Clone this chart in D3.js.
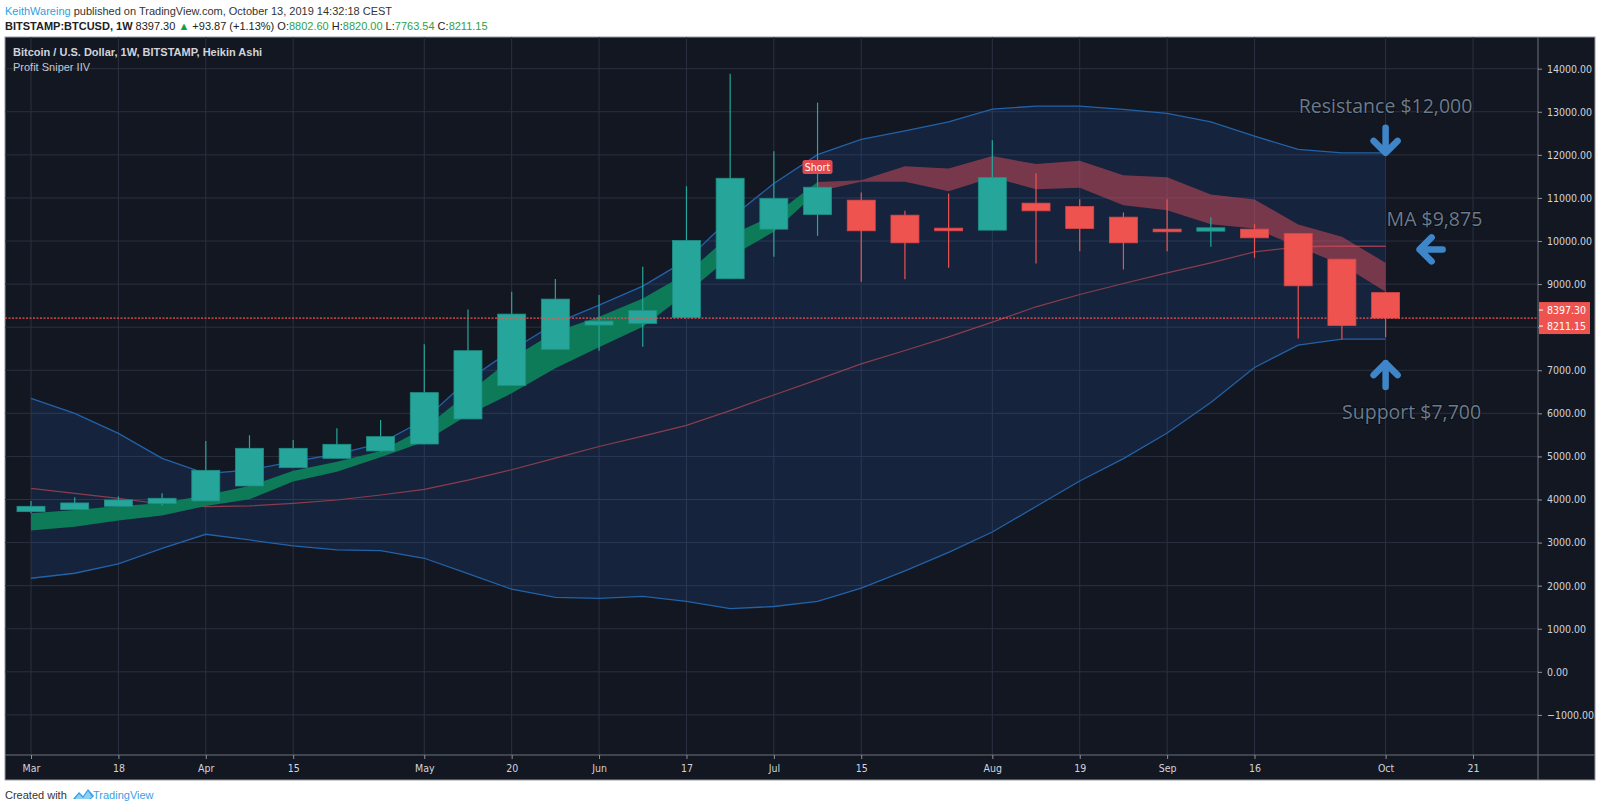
<!DOCTYPE html>
<html><head><meta charset="utf-8">
<script src="https://cdn.jsdelivr.net/npm/d3@7/dist/d3.min.js"></script>
<style>
html,body{margin:0;padding:0;background:#fff;}
svg{display:block;}
</style></head>
<body>
<svg id="c" width="1600" height="811"></svg>
<script>
// ---------------- DATA ----------------
const weeks = ["2019-03-04","2019-03-11","2019-03-18","2019-03-25","2019-04-01","2019-04-08","2019-04-15","2019-04-22","2019-04-29",
  "2019-05-06","2019-05-13","2019-05-20","2019-05-27","2019-06-03","2019-06-10","2019-06-17","2019-06-24","2019-07-01","2019-07-08",
  "2019-07-15","2019-07-22","2019-07-29","2019-08-05","2019-08-12","2019-08-19","2019-08-26","2019-09-02","2019-09-09","2019-09-16",
  "2019-09-23","2019-09-30","2019-10-07"];
const haOpen  = [3718,3765,3842,3904,3966,4314,4739,4956,5126,5288,5870,6643,7485,8049,8088,8227,9124,10275,10615,
  10949,10600,10299,10252,10879,10802,10554,10276,10229,10276,10175,9579,8802.60];
const haHigh  = [3966,4051,4067,4144,5358,5490,5381,5652,5845,7601,8413,8822,9116,8745,9402,11272,13884,12083,13212,
  11127,10701,11104,12342,11576,10972,10663,10972,10554,10392,10175,9579,8820.00];
const haLow   = [3680,3765,3842,3859,3966,4314,4739,4956,5100,5288,5870,6643,7485,7454,7547,8227,9124,9634,10121,
  9053,9115,9378,10252,9478,9765,9339,9765,9865,9610,7737,7713,7763.54];
const haClose = [3842,3920,3989,4028,4677,5188,5188,5281,5459,6481,7454,8304,8652,8142,8390,10012,11457,10986,11249,
  10237,9958,10237,11475,10701,10291,9958,10214,10307,10074,8960,8039,8211.15];
const bandUpper = [6348,6000,5536,4956,4600,4685,4879,5056,5304,5850,6774,7470,8088,8513,8953,9556,10522,11334,12006,
  12358,12559,12768,13062,13132,13132,13054,12961,12768,12435,12125,12048,12048];
const bandLower = [2172,2288,2504,2868,3193,3061,2922,2829,2813,2636,2280,1918,1729,1705,1752,1634,1468,1516,1634,
  1942,2345,2771,3245,3837,4429,4950,5542,6253,7064,7582,7721,7721];
const maLine = [4260,4144,4028,3896,3834,3850,3912,3989,4105,4237,4450,4690,4960,5230,5470,5720,6063,6427,6782,
  7149,7458,7776,8116,8473,8758,9014,9262,9494,9749,9865,9880,9875];
const cloudTop = [3680,3757,3850,3912,4105,4314,4670,4879,5126,5652,6465,7277,7895,8243,8668,9247,10136,10600,11370,
  11413,11738,11684,11971,11785,11862,11529,11483,11080,10964,10384,10097,9494];
const cloudBottom = [3278,3370,3510,3626,3850,4005,4415,4647,4979,5343,5963,6465,7045,7532,8011,8784,9634,10213,11150,
  11375,11375,11158,11475,11204,11235,10833,10717,10392,10291,9865,9450,8820];
const trendFlipWeek = "2019-07-08";           // cloud turns from bullish to bearish
const signals = [{week:"2019-07-08", text:"Short"}];
const xTickDates  = ["2019-03-04","2019-03-18","2019-04-01","2019-04-15","2019-05-06","2019-05-20","2019-06-03","2019-06-17",
  "2019-07-01","2019-07-15","2019-08-05","2019-08-19","2019-09-02","2019-09-16","2019-10-07","2019-10-21"];
const xTickLabels = ["Mar","18","Apr","15","May","20","Jun","17","Jul","15","Aug","19","Sep","16","Oct","21"];
const yTicks = d3.range(-1000, 14001, 1000);
const lastPrice = 8397.30, change = 93.87, changePct = 1.13;
const ohlcNames = ["O","H","L","C"];
const ohlcValues = [8802.60, 8820.00, 7763.54, 8211.15];
const levels = {resistance:12000, ma:9875, support:7700};
const maLevelFrom = "2019-09-23";

// ---------------- LAYOUT ----------------
const svg = d3.select("#c");
const F = "'Liberation Sans', Arial, sans-serif";
const AX = "'DejaVu Sans Condensed','DejaVu Sans',sans-serif";
const frame = {x0:5, y0:37, x1:1595, y1:780};
const plot = {x0:5, y0:37, x1:1538, y1:755};
const pd = s => new Date(s + "T00:00:00Z");
const x = d3.scaleUtc().domain([pd("2019-03-04"), pd("2019-10-21")]).range([31, 1473]);
const y = d3.scaleLinear().domain([-1000, 14000]).range([714.9, 68.7]);
const xs = weeks.map(w => x(pd(w)));

svg.append("rect").attr("width",1600).attr("height",811).attr("fill","#fff");

// header
const h1 = svg.append("text").attr("x",5).attr("y",15).attr("font-family",F).attr("font-size",11).attr("fill","#333");
h1.append("tspan").attr("fill","#2e9fe0").text("KeithWareing");
h1.append("tspan").text(" published on TradingView.com, October 13, 2019 14:32:18 CEST");
const h2 = svg.append("text").attr("x",5).attr("y",30).attr("font-family",F).attr("font-size",11).attr("fill","#222");
h2.append("tspan").attr("font-weight","bold").text("BITSTAMP:BTCUSD, 1W");
h2.append("tspan").text("  " + lastPrice.toFixed(2) + " ");
h2.append("tspan").attr("fill","#1e9b3c").text("▲");
h2.append("tspan").text(" +" + change.toFixed(2) + " (+" + changePct.toFixed(2) + "%) ");
ohlcNames.forEach((n,i)=>{
  h2.append("tspan").text((i? " ":"") + n + ":");
  h2.append("tspan").attr("fill","#2fa04a").text(ohlcValues[i].toFixed(2));
});

// chart frame
svg.append("rect").attr("x",frame.x0).attr("y",frame.y0).attr("width",frame.x1-frame.x0).attr("height",frame.y1-frame.y0)
  .attr("fill","#131722").attr("stroke","#9a9ca3").attr("stroke-width",1);

const defs = svg.append("defs");
defs.append("clipPath").attr("id","pc").append("rect").attr("x",plot.x0).attr("y",plot.y0)
  .attr("width",plot.x1-plot.x0).attr("height",plot.y1-plot.y0);
const g = svg.append("g").attr("clip-path","url(#pc)");

// grid
g.selectAll(".hg").data(yTicks).join("line").attr("x1",plot.x0).attr("x2",plot.x1)
  .attr("y1",d=>y(d)).attr("y2",d=>y(d)).attr("stroke","#2b3040").attr("stroke-width",1);
g.selectAll(".vg").data(xTickDates).join("line").attr("y1",plot.y0).attr("y2",plot.y1)
  .attr("x1",d=>x(pd(d))).attr("x2",d=>x(pd(d))).attr("stroke","#2b3040").attr("stroke-width",1);

// bollinger-like band
const idx = d3.range(weeks.length);
g.append("path").datum(idx).attr("fill","rgba(33,110,220,0.14)")
  .attr("d", d3.area().x(i=>xs[i]).y0(i=>y(bandLower[i])).y1(i=>y(bandUpper[i])));
const line = arr => d3.line().x(i=>xs[i]).y(i=>y(arr[i]));
g.append("path").datum(idx).attr("fill","none").attr("stroke","#2262a8").attr("stroke-width",1.3).attr("d", line(bandUpper));
g.append("path").datum(idx).attr("fill","none").attr("stroke","#2262a8").attr("stroke-width",1.3).attr("d", line(bandLower));

// MA
g.append("path").datum(idx).attr("fill","none").attr("stroke","#8a3d4f").attr("stroke-width",1.2).attr("d", line(maLine));
g.append("line").attr("x1",x(pd(maLevelFrom))).attr("x2",xs[xs.length-1]).attr("y1",y(levels.ma)).attr("y2",y(levels.ma))
  .attr("stroke","#9a3e52").attr("stroke-width",1.2);

// cloud
const flip = weeks.indexOf(trendFlipWeek);
const cloudArea = d3.area().x(i=>xs[i]).y0(i=>y(cloudBottom[i])).y1(i=>y(cloudTop[i]));
g.append("path").datum(idx.filter(i=>i<=flip)).attr("fill","#0d7a58").attr("d",cloudArea);
g.append("path").datum(idx.filter(i=>i>=flip)).attr("fill","rgba(200,75,90,0.55)").attr("d",cloudArea);

// candles
const bw = 28;
const up = i => haClose[i] >= haOpen[i];
const cg = g.append("g");
idx.forEach(i=>{
  const col = up(i) ? "#26a69a" : "#ef5350";
  cg.append("line").attr("x1",xs[i]).attr("x2",xs[i]).attr("y1",y(haHigh[i])).attr("y2",y(haLow[i]))
    .attr("stroke",col).attr("stroke-width",1.2);
  const top = y(Math.max(haOpen[i],haClose[i])), bot = y(Math.min(haOpen[i],haClose[i]));
  cg.append("rect").attr("x",xs[i]-bw/2).attr("y",top).attr("width",bw).attr("height",Math.max(2.5,bot-top))
    .attr("fill",col).attr("stroke", up(i)?"#1f8f85":"#d9474a").attr("stroke-width",0.8);
});

// signals
signals.forEach(s=>{
  const i = weeks.indexOf(s.week);
  const cx = xs[i], cy = y(cloudTop[i]) - 15;
  g.append("rect").attr("x",cx-15).attr("y",cy-7).attr("width",30).attr("height",14).attr("rx",2.5)
    .attr("fill","#e5484f");
  g.append("text").attr("x",cx).attr("y",cy+4).attr("text-anchor","middle").attr("font-family",AX)
    .attr("font-size",10.5).attr("fill","#fff").text(s.text);
});

// last price dotted line
g.append("line").attr("x1",plot.x0).attr("x2",plot.x1).attr("y1",y(ohlcValues[3])).attr("y2",y(ohlcValues[3]))
  .attr("stroke","#ef5350").attr("stroke-width",1.2).attr("stroke-dasharray","2,1.5");

// annotations
const ax = xs[xs.length-1];
const ann = svg.append("g").attr("font-family","'Open Sans','Noto Sans',sans-serif").attr("font-size",19.5)
  .attr("fill","#6a7b8e").attr("stroke","#0a0d13").attr("stroke-width",1.6).attr("paint-order","stroke");
ann.append("text").attr("x",ax).attr("y",y(levels.resistance)-42).attr("text-anchor","middle").text("Resistance $12,000");
ann.append("text").attr("x",ax+1).attr("y",y(levels.ma)-20).text("MA $9,875");
ann.append("text").attr("x",ax+26).attr("y",y(levels.support)+79).attr("text-anchor","middle").text("Support $7,700");
const arr = svg.append("g").attr("fill","none").attr("stroke","#3f86c9").attr("stroke-width",6.5)
  .attr("stroke-linecap","round").attr("stroke-linejoin","round");
const rt = y(levels.resistance);
arr.append("path").attr("d",`M${ax},${rt-27}L${ax},${rt-3}M${ax-12},${rt-14}L${ax},${rt-2}L${ax+12},${rt-14}`);
const my = y(levels.ma) + 3;
arr.append("path").attr("d",`M${ax+57},${my}L${ax+34},${my}M${ax+46},${my-12}L${ax+34},${my}L${ax+46},${my+12}`);
const sy = y(levels.support) + 21;
arr.append("path").attr("d",`M${ax},${sy+26}L${ax},${sy+2}M${ax-12},${sy+14}L${ax},${sy+2}L${ax+12},${sy+14}`);

// axes panels separators
svg.append("line").attr("x1",plot.x1).attr("x2",plot.x1).attr("y1",frame.y0).attr("y2",frame.y1).attr("stroke","#6f727c");
svg.append("line").attr("x1",frame.x0).attr("x2",frame.x1).attr("y1",plot.y1).attr("y2",plot.y1).attr("stroke","#6f727c");

// y axis
const yAxis = svg.append("g").attr("transform",`translate(${plot.x1},0)`)
  .call(d3.axisRight(y).tickValues(yTicks).tickFormat(d3.format(".2f")).tickSize(4).tickPadding(5));
yAxis.select(".domain").remove();
yAxis.selectAll("line").attr("stroke","#8d9099");
yAxis.selectAll("text").attr("font-family",AX).attr("font-size",10.5).attr("fill","#d1d4dc");

// price labels
const pl = svg.append("g");
const p1 = y(lastPrice), p2 = Math.max(y(ohlcValues[3]), p1 + 16);
pl.append("rect").attr("x",plot.x1+1).attr("y",p1-8).attr("width",51).attr("height",p2+8-(p1-8)).attr("fill","#ef5350");
[[p1,lastPrice],[p2,ohlcValues[3]]].forEach(([py,v])=>{
  pl.append("line").attr("x1",plot.x1+1).attr("x2",plot.x1+5).attr("y1",py).attr("y2",py).attr("stroke","#fff");
  pl.append("text").attr("x",plot.x1+9).attr("y",py+4).attr("font-family",AX).attr("font-size",10.5)
    .attr("fill","#fff").text(v.toFixed(2));
});

// x axis
const xAxis = svg.append("g").attr("transform",`translate(0,${plot.y1})`)
  .call(d3.axisBottom(x).tickValues(xTickDates.map(pd)).tickFormat((d,i)=>xTickLabels[i]).tickSize(4).tickPadding(6));
xAxis.select(".domain").remove();
xAxis.selectAll("line").attr("stroke","#8d9099");
xAxis.selectAll("text").attr("font-family",AX).attr("font-size",10.5).attr("fill","#d1d4dc");

// title inside chart
svg.append("text").attr("x",13).attr("y",56).attr("font-family",F).attr("font-size",11).attr("font-weight","bold")
  .attr("fill","#d1d4dc").text("Bitcoin / U.S. Dollar, 1W, BITSTAMP, Heikin Ashi");
svg.append("text").attr("x",13).attr("y",71).attr("font-family",F).attr("font-size",11)
  .attr("fill","#c5c8d0").text("Profit Sniper IIV");

// footer
svg.append("text").attr("x",5).attr("y",799).attr("font-family",F).attr("font-size",11).attr("fill","#333").text("Created with");
svg.append("path").attr("transform","translate(73,788)")
  .attr("d","M0,11 L6,4 L10,8 L15,1 L21,8 L23,6 L18,11 Z").attr("fill","#3aa0e6");
svg.append("path").attr("transform","translate(73,788)")
  .attr("d","M2,11 L6,6 L10,10 L15,3 L19,9 L16,11 Z").attr("fill","#8fd0f5");
svg.append("text").attr("x",93).attr("y",799).attr("font-family",F).attr("font-size",11).attr("fill","#3aa0e6").text("TradingView");
</script>
</body></html>
